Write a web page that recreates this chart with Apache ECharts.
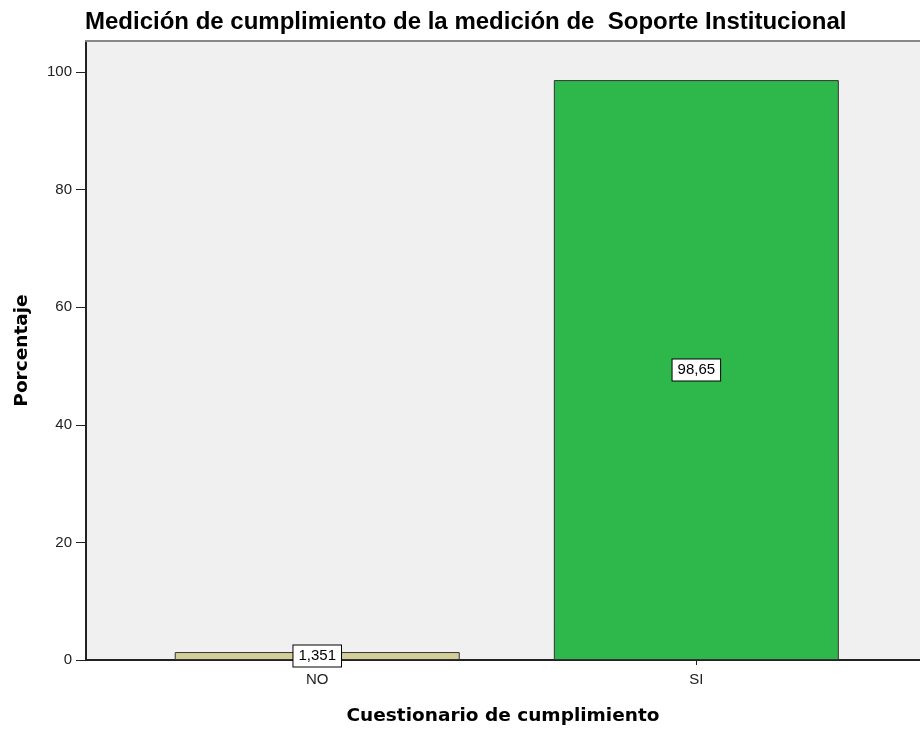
<!DOCTYPE html>
<html>
<head>
<meta charset="utf-8">
<script src="https://cdn.jsdelivr.net/npm/echarts@6/dist/echarts.min.js"></script>
<style>
  html, body { margin: 0; padding: 0; background: #fff; }
  #main { width: 920px; height: 731px; }
</style>
</head>
<body>
<div id="main"></div>
<script>
// datos del gráfico
const categorias = ['NO', 'SI'];
const porcentajes = [1.351, 98.65];
const colores = ['#d4cf98', '#2eb74a'];
const marcasY = [0, 20, 40, 60, 80, 100];

const chart = echarts.init(document.getElementById('main'));

// cada barra en su posición 1, 2 del eje x
let datos = categorias.map((c, i) => ({
    value: [i + 1, porcentajes[i]],
    itemStyle: { color: colores[i] }
}));

let option = {
    backgroundColor: '#fff',
    animation: false,
    title: {
        text: 'Medición de cumplimiento de la medición de  Soporte Institucional',
        left: 80,
        top: 5,
        textStyle: {
            fontFamily: 'Liberation Sans',
            fontWeight: 'bold',
            fontSize: 24,
            color: '#000'
        }
    },
    grid: {
        left: 86,
        right: 0,
        top: 41,
        bottom: 71,
        show: true,
        backgroundColor: '#f0f0f0',
        borderWidth: 0
    },
    xAxis: [
        {
            type: 'value',
            min: 0.39,
            max: 2.59,
            name: 'Cuestionario de cumplimiento',
            nameLocation: 'middle',
            nameGap: 47,
            nameTextStyle: {
                fontFamily: 'DejaVu Sans',
                fontWeight: 'bold',
                fontSize: 18.5,
                color: '#000'
            },
            axisLine: { show: true, lineStyle: { color: '#222', width: 2 } },
            axisTick: { show: true, length: 5, customValues: [1, 2], lineStyle: { color: '#222' } },
            axisLabel: {
                customValues: [1, 2],
                formatter: (v) => categorias[Math.round(v) - 1],
                margin: 12,
                fontFamily: 'Liberation Sans',
                fontSize: 15,
                color: '#222'
            },
            splitLine: { show: false }
        },
        {
            // borde superior del área
            type: 'value',
            position: 'top',
            min: 0.39,
            max: 2.59,
            axisLine: { show: true, lineStyle: { color: '#888', width: 2 } },
            axisTick: { show: false },
            axisLabel: { show: false },
            splitLine: { show: false }
        }
    ],
    yAxis: {
        type: 'value',
        min: 0,
        max: 105.3,
        name: 'Porcentaje',
        nameLocation: 'middle',
        nameGap: 54,
        nameTextStyle: {
            fontFamily: 'DejaVu Sans',
            fontWeight: 'bold',
            fontSize: 18.5,
            color: '#000'
        },
        axisLine: { show: true, onZero: false, lineStyle: { color: '#222', width: 2 } },
        axisTick: { show: true, length: 10, customValues: marcasY, lineStyle: { color: '#222' } },
        axisLabel: {
            customValues: marcasY,
            margin: 14,
            fontFamily: 'Liberation Sans',
            fontSize: 15,
            color: '#222'
        },
        splitLine: { show: false }
    },
    series: [
        {
            type: 'bar',
            xAxisIndex: 0,
            barWidth: 285,
            data: datos,
            itemStyle: { borderColor: '#333', borderWidth: 1 },
            label: {
                show: true,
                position: 'inside',
                formatter: (p) => String(p.value[1]).replace('.', ','),
                backgroundColor: '#fff',
                borderColor: '#000',
                borderWidth: 1,
                padding: [3, 5],
                fontFamily: 'Liberation Sans',
                fontSize: 15,
                color: '#000'
            }
        }
    ]
};

chart.setOption(option);
</script>
</body>
</html>
